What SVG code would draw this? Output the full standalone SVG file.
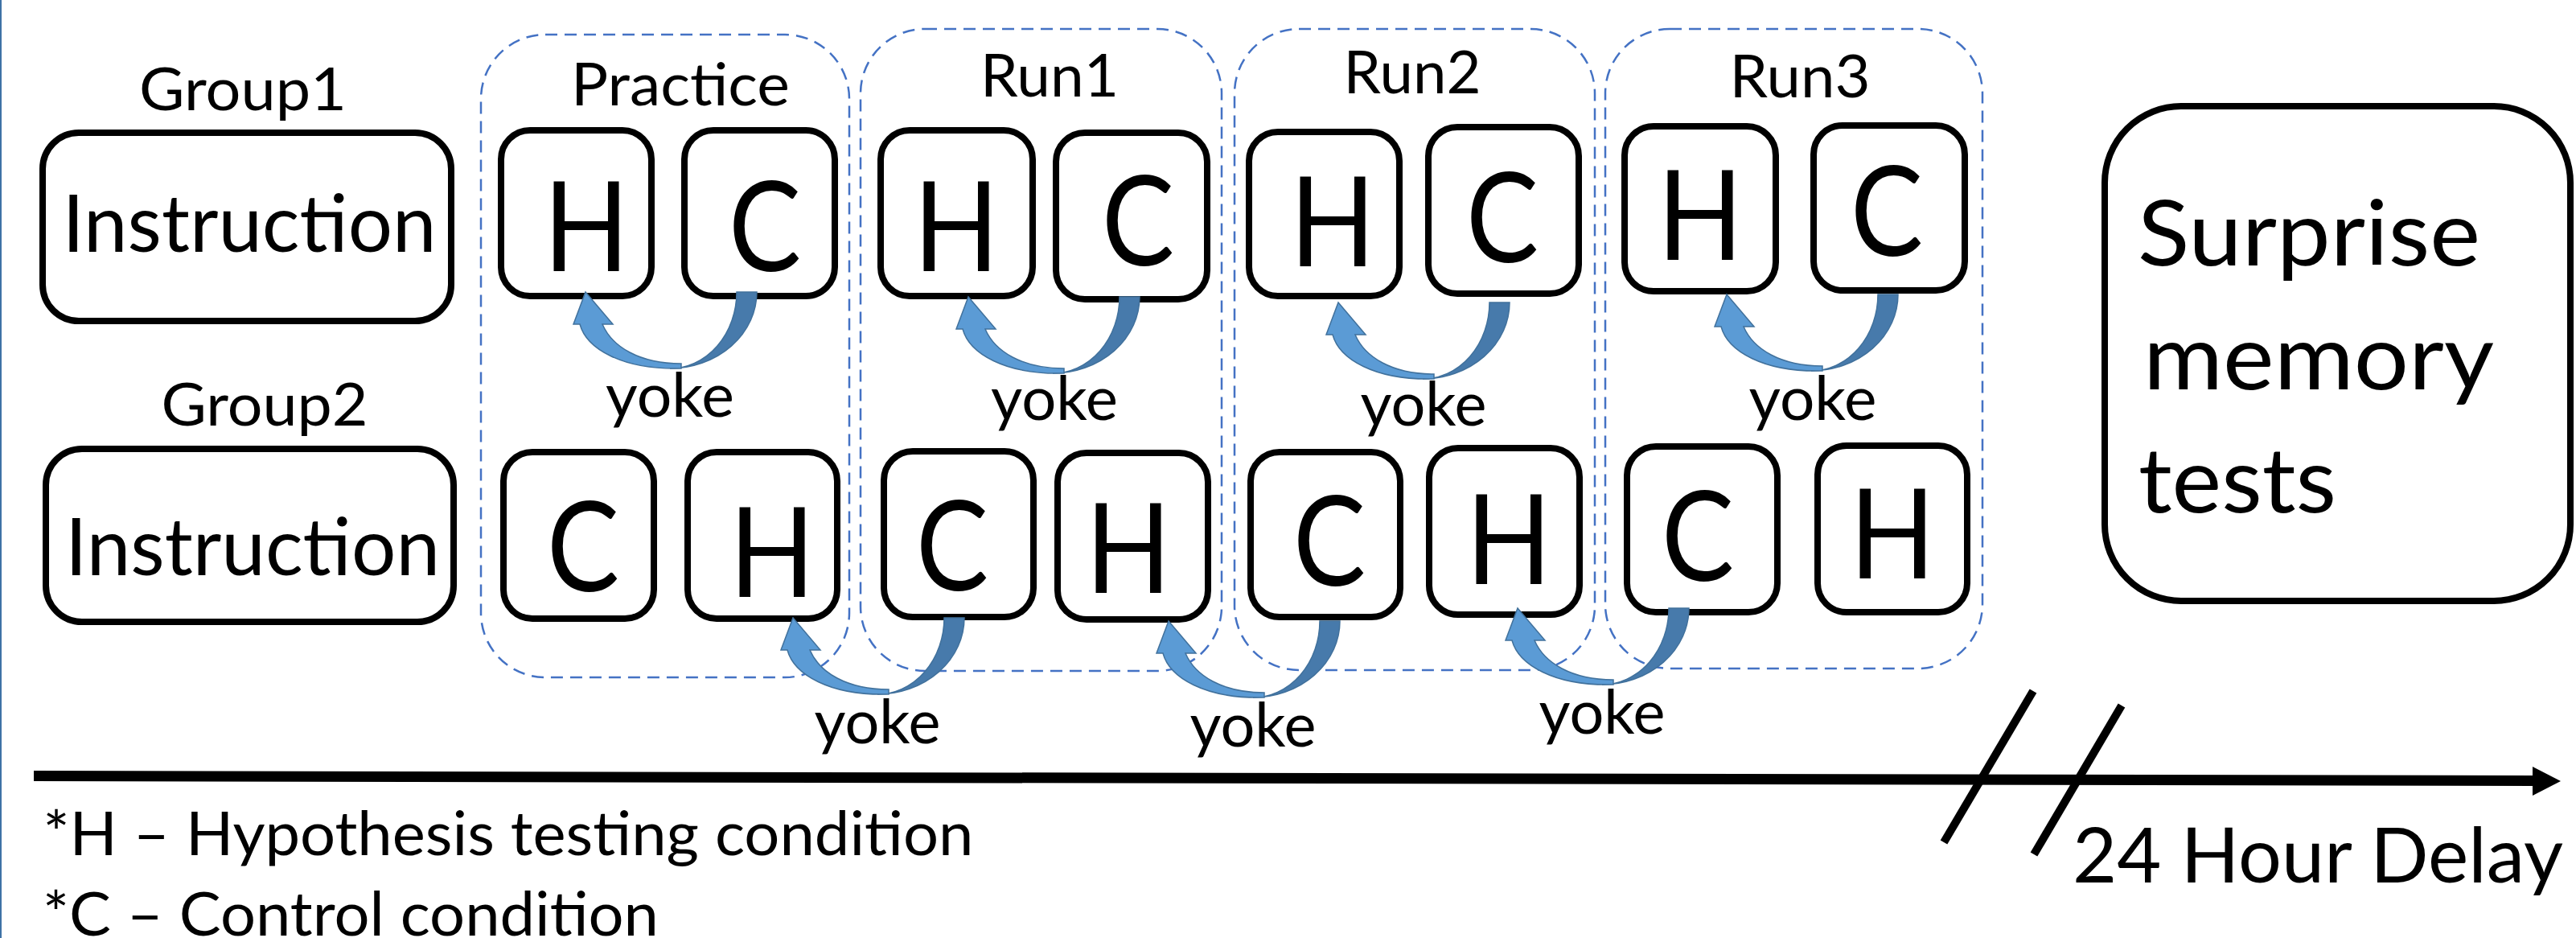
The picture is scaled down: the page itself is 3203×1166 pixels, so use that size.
<svg xmlns="http://www.w3.org/2000/svg" xmlns:xlink="http://www.w3.org/1999/xlink" width="3203" height="1166" viewBox="0 0 3203 1166">
  <style>
    .t { font-family: Lato, "Open Sans", "Liberation Sans", sans-serif; fill: #000; }
    .lbl { font-size: 74px; text-anchor: middle; }
    .instr { font-size: 98px; text-anchor: middle; }
    .cond { font-size: 155px; text-anchor: middle; }
    .yoke { font-size: 75px; text-anchor: middle; }
    .big { font-size: 112px; text-anchor: middle; }
    .legend { font-size: 75px; text-anchor: middle; }
    .delay { font-size: 95px; text-anchor: middle; }
    .box { fill: #fff; stroke: #000; stroke-width: 8; }
    .phase { fill: none; stroke: #4472C4; stroke-width: 2.5; stroke-dasharray: 15 9; }
    .arr-back { fill: #477AAB; stroke: #41719C; stroke-width: 1.5; }
    .arr-front { fill: #5B9BD5; stroke: #41719C; stroke-width: 1.5; stroke-linejoin: miter; }
  </style>
  <defs>
    <!-- curved "yoke" arrow, origin at the right edge of the tail -->
    <g id="yoke-arrow">
      <path class="arr-back" d="M0 0 A108 95 0 0 1 -108 95 A83 95 0 0 0 -25 0 Z"/>
      <path class="arr-front" d="M-94 95 C-168 97 -212 70 -220 40 L-228 40 L-213 0 L-179 40 L-192 40 C-180 68 -146 89 -94 89 Z"/>
    </g>
  </defs>

  <rect width="3203" height="1166" fill="#fff"/>
  <rect x="0" y="0" width="2" height="1166" fill="#3F72A6"/>

  <!-- phase containers -->
  <g id="practice">
    <rect class="phase" x="598" y="43" width="458" height="799" rx="80"/>
    <text class="t lbl" x="846" y="131" textLength="272" lengthAdjust="spacingAndGlyphs">Practice</text>
  </g>
  <g id="run1">
    <rect class="phase" x="1070" y="36" width="449" height="798" rx="80"/>
    <text class="t lbl" x="1305" y="120" textLength="172" lengthAdjust="spacingAndGlyphs">Run1</text>
  </g>
  <g id="run2">
    <rect class="phase" x="1535" y="36" width="448" height="797" rx="80"/>
    <text class="t lbl" x="1756" y="116" textLength="171" lengthAdjust="spacingAndGlyphs">Run2</text>
  </g>
  <g id="run3">
    <rect class="phase" x="1996" y="36" width="469" height="795" rx="80"/>
    <text class="t lbl" x="2238" y="121" textLength="175" lengthAdjust="spacingAndGlyphs">Run3</text>
  </g>

  <!-- group labels and instruction boxes -->
  <g id="group1">
    <text class="t lbl" x="302" y="137" textLength="258" lengthAdjust="spacingAndGlyphs">Group1</text>
    <rect class="box" x="53" y="165" width="508" height="234" rx="45"/>
    <text class="t instr" x="310" y="313" textLength="465" lengthAdjust="spacingAndGlyphs">Instruction</text>
  </g>
  <g id="group2">
    <text class="t lbl" x="329" y="529" textLength="257" lengthAdjust="spacingAndGlyphs">Group2</text>
    <rect class="box" x="57" y="558" width="507" height="215" rx="45"/>
    <text class="t instr" x="314" y="715" textLength="466" lengthAdjust="spacingAndGlyphs">Instruction</text>
  </g>

  <!-- condition boxes, Group1 row -->
  <g id="p-g1-h"><rect class="box" x="623" y="162" width="187" height="206" rx="36"/><text class="t cond" transform="translate(729 337) scale(0.9 1)">H</text></g>
  <g id="p-g1-c"><rect class="box" x="851" y="162" width="187" height="206" rx="36"/><text class="t cond" transform="translate(951 337) scale(0.87 1)">C</text></g>
  <g id="r1-g1-h"><rect class="box" x="1095" y="162" width="189" height="206" rx="36"/><text class="t cond" transform="translate(1189 337) scale(0.9 1)">H</text></g>
  <g id="r1-g1-c"><rect class="box" x="1313" y="165" width="188" height="207" rx="36"/><text class="t cond" transform="translate(1415 330) scale(0.87 1)">C</text></g>
  <g id="r2-g1-h"><rect class="box" x="1553" y="164" width="187" height="204" rx="36"/><text class="t cond" transform="translate(1657 331) scale(0.9 1)">H</text></g>
  <g id="r2-g1-c"><rect class="box" x="1776" y="158" width="187" height="207" rx="36"/><text class="t cond" transform="translate(1868 326) scale(0.87 1)">C</text></g>
  <g id="r3-g1-h"><rect class="box" x="2020" y="157" width="188" height="205" rx="36"/><text class="t cond" transform="translate(2114 323) scale(0.9 1)">H</text></g>
  <g id="r3-g1-c"><rect class="box" x="2255" y="156" width="188" height="205" rx="36"/><text class="t cond" transform="translate(2346 318) scale(0.87 1)">C</text></g>

  <!-- condition boxes, Group2 row -->
  <g id="p-g2-c"><rect class="box" x="626" y="562" width="187" height="207" rx="36"/><text class="t cond" transform="translate(725 735) scale(0.87 1)">C</text></g>
  <g id="p-g2-h"><rect class="box" x="855" y="562" width="186" height="207" rx="36"/><text class="t cond" transform="translate(960 742) scale(0.9 1)">H</text></g>
  <g id="r1-g2-c"><rect class="box" x="1099" y="561" width="186" height="206" rx="36"/><text class="t cond" transform="translate(1184 734) scale(0.87 1)">C</text></g>
  <g id="r1-g2-h"><rect class="box" x="1315" y="563" width="187" height="207" rx="36"/><text class="t cond" transform="translate(1403 737) scale(0.9 1)">H</text></g>
  <g id="r2-g2-c"><rect class="box" x="1555" y="562" width="186" height="205" rx="36"/><text class="t cond" transform="translate(1653 728) scale(0.87 1)">C</text></g>
  <g id="r2-g2-h"><rect class="box" x="1777" y="557" width="187" height="207" rx="36"/><text class="t cond" transform="translate(1876 726) scale(0.9 1)">H</text></g>
  <g id="r3-g2-c"><rect class="box" x="2023" y="555" width="187" height="206" rx="36"/><text class="t cond" transform="translate(2111 722) scale(0.87 1)">C</text></g>
  <g id="r3-g2-h"><rect class="box" x="2260" y="554" width="186" height="207" rx="36"/><text class="t cond" transform="translate(2353 719) scale(0.9 1)">H</text></g>

  <!-- final test -->
  <g id="memory-tests">
    <rect class="box" x="2617" y="132" width="579" height="615" rx="95"/>
    <text class="t big" x="2871" y="330" textLength="426" lengthAdjust="spacingAndGlyphs">Surprise</text>
    <text class="t big" x="2883" y="484" textLength="436" lengthAdjust="spacingAndGlyphs">memory</text>
    <text class="t big" x="2782" y="637" textLength="246" lengthAdjust="spacingAndGlyphs">tests</text>
  </g>

  <!-- yoke connectors -->
  <g id="connectors">
    <use xlink:href="#yoke-arrow" transform="translate(941 363)"/>
    <use xlink:href="#yoke-arrow" transform="translate(1417 369)"/>
    <use xlink:href="#yoke-arrow" transform="translate(1877 376)"/>
    <use xlink:href="#yoke-arrow" transform="translate(2360 366)"/>
    <use xlink:href="#yoke-arrow" transform="translate(1199 768)"/>
    <use xlink:href="#yoke-arrow" transform="translate(1666 772)"/>
    <use xlink:href="#yoke-arrow" transform="translate(2100 756)"/>
    <text class="t yoke" x="833" y="518" textLength="160" lengthAdjust="spacingAndGlyphs">yoke</text>
    <text class="t yoke" x="1311" y="522" textLength="158" lengthAdjust="spacingAndGlyphs">yoke</text>
    <text class="t yoke" x="1770" y="529" textLength="157" lengthAdjust="spacingAndGlyphs">yoke</text>
    <text class="t yoke" x="2254" y="522" textLength="159" lengthAdjust="spacingAndGlyphs">yoke</text>
    <text class="t yoke" x="1091" y="924" textLength="157" lengthAdjust="spacingAndGlyphs">yoke</text>
    <text class="t yoke" x="1558" y="928" textLength="157" lengthAdjust="spacingAndGlyphs">yoke</text>
    <text class="t yoke" x="1992" y="912" textLength="157" lengthAdjust="spacingAndGlyphs">yoke</text>
  </g>

  <!-- time axis with break marks -->
  <g id="timeline">
    <polygon points="42,958 3149,964 3149,977 42,971" fill="#000"/>
    <polygon points="3149,953 3184,971 3149,989" fill="#000"/>
    <line x1="2528" y1="859" x2="2417" y2="1047" stroke="#000" stroke-width="10"/>
    <line x1="2638" y1="877" x2="2529" y2="1062" stroke="#000" stroke-width="10"/>
    <text class="t delay" x="2882" y="1097" textLength="610" lengthAdjust="spacingAndGlyphs">24 Hour Delay</text>
  </g>

  <!-- key -->
  <g id="legend">
    <text class="t legend" x="632" y="1063" textLength="1157" lengthAdjust="spacingAndGlyphs">*H – Hypothesis testing condition</text>
    <text class="t legend" x="436" y="1163" textLength="766" lengthAdjust="spacingAndGlyphs">*C – Control condition</text>
  </g>
</svg>
